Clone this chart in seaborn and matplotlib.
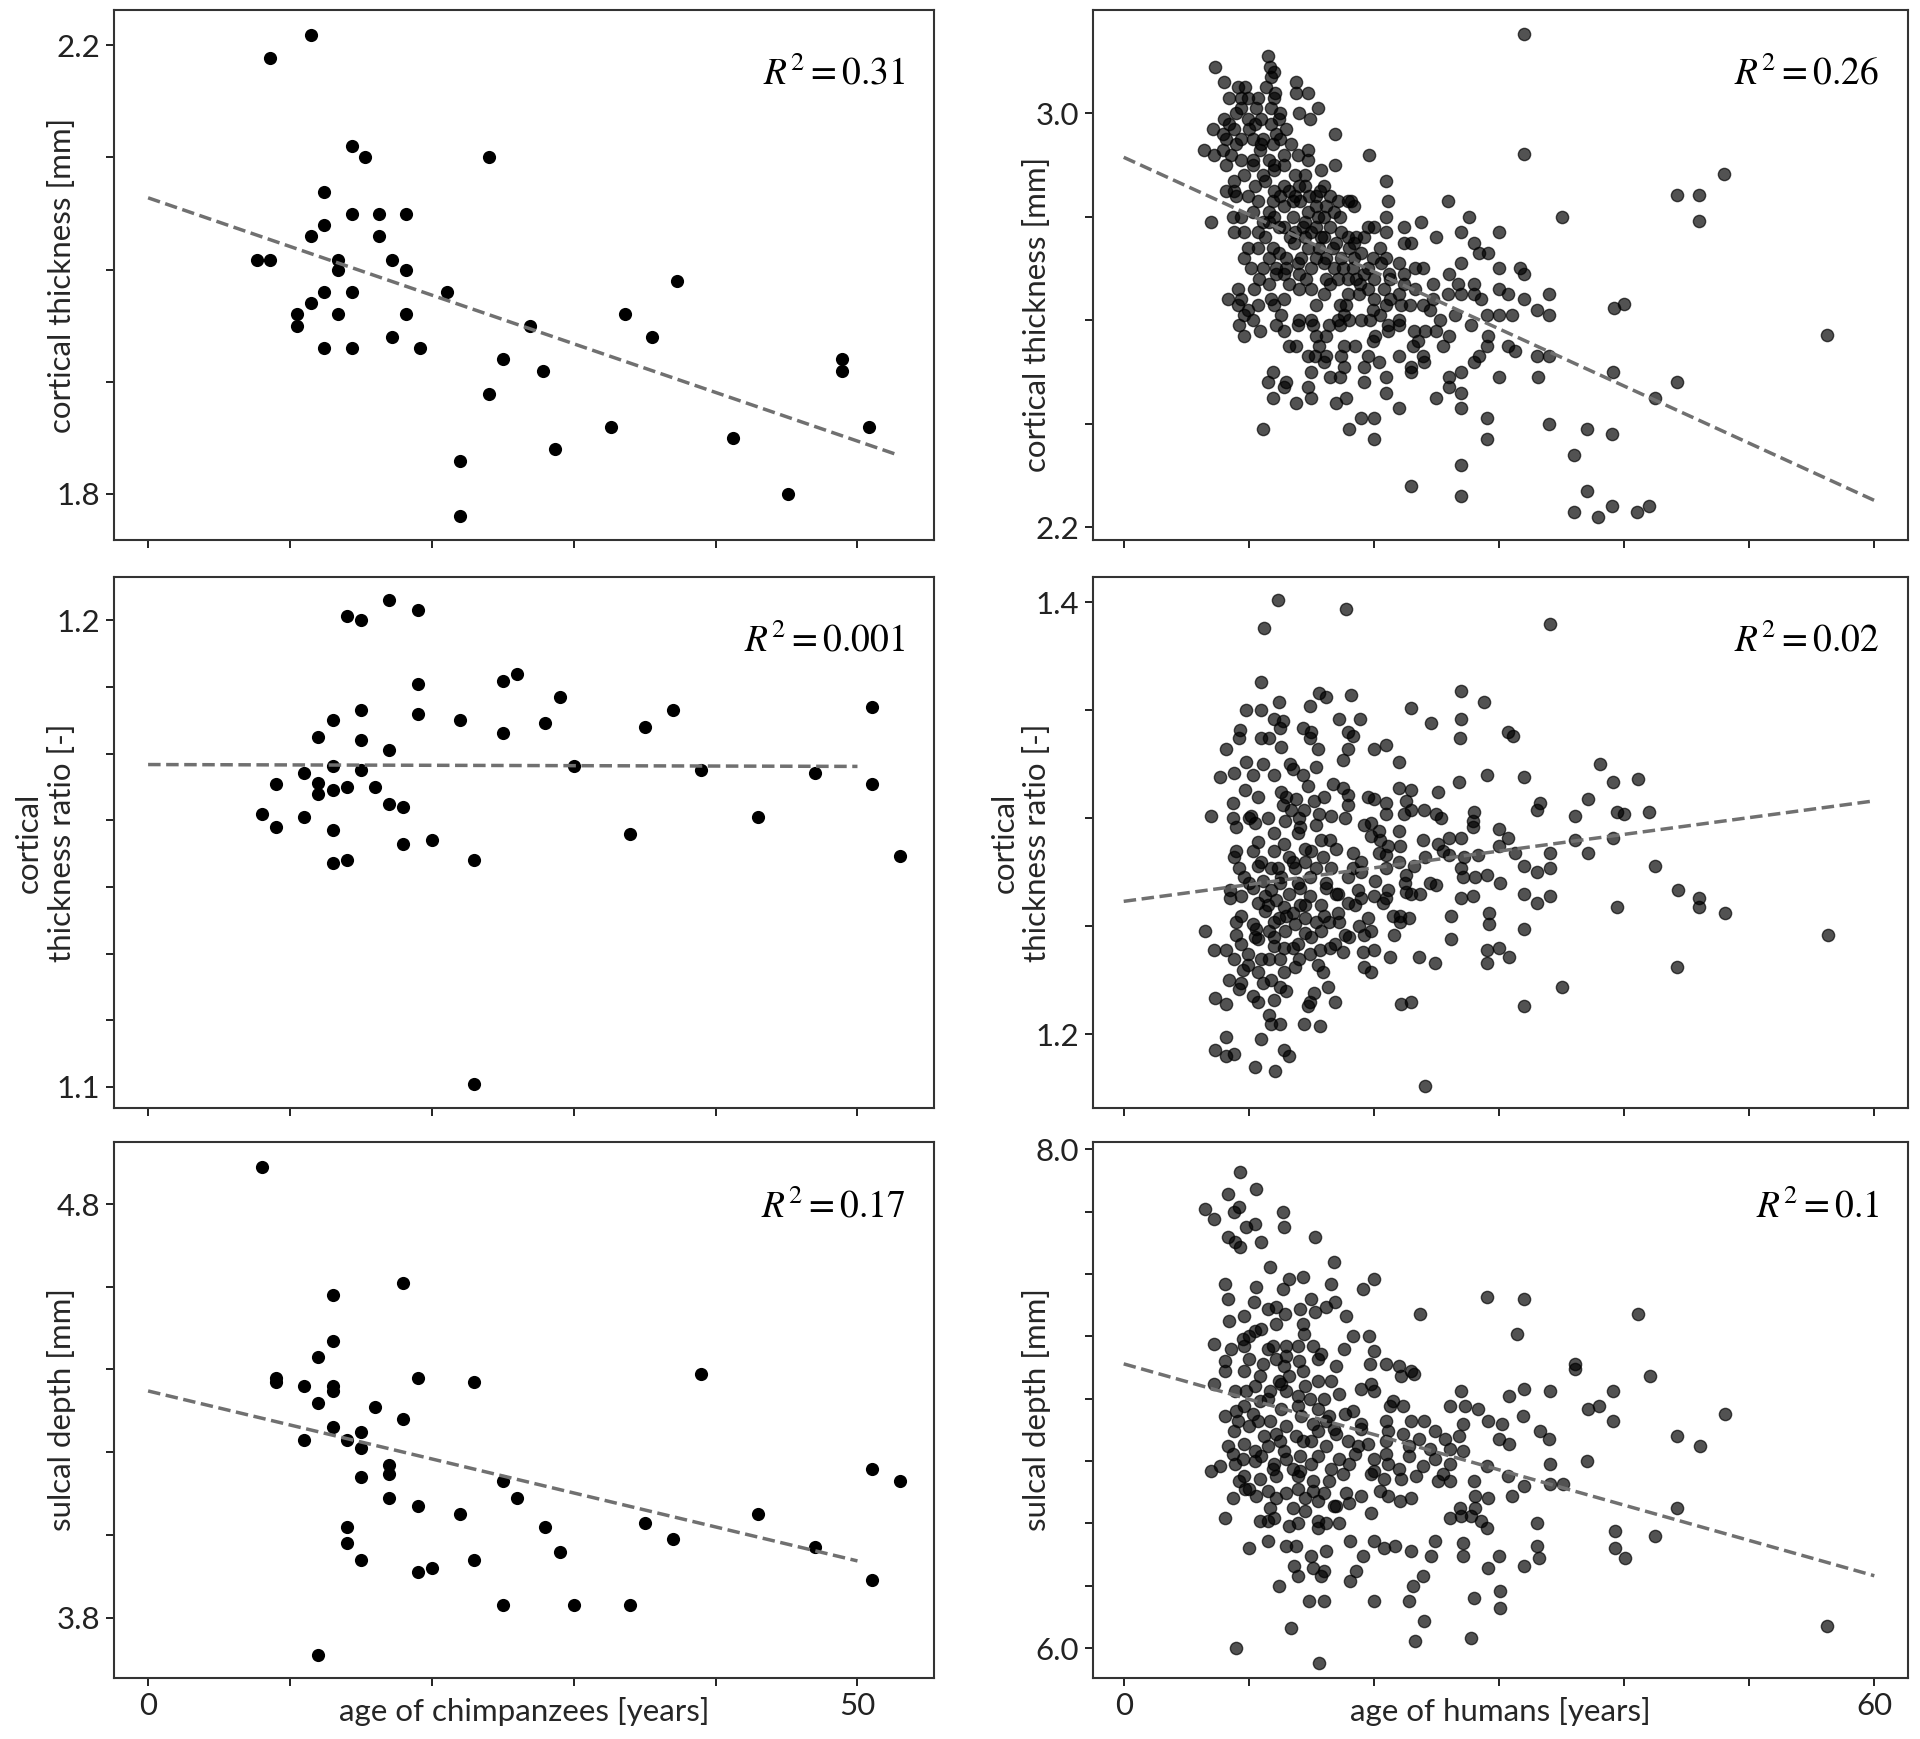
import numpy as np
import pandas as pd
import matplotlib
matplotlib.use("Agg")
import matplotlib.pyplot as plt
import seaborn as sns

# ---------------- data (age, value) ----------------
chimp_thickness = [
    (8.6, 2.189), (11.5, 2.209), (14.4, 2.110), (15.3, 2.100), (24.0, 2.100), (12.4, 2.069),
    (14.4, 2.050), (16.3, 2.050), (18.2, 2.050), (12.4, 2.040), (11.5, 2.030), (16.3, 2.030),
    (7.65, 2.009), (8.6, 2.009), (13.4, 2.009), (13.4, 2.000), (17.2, 2.009), (18.2, 2.000),
    (21.1, 1.980), (37.3, 1.990), (12.4, 1.980), (14.4, 1.980), (11.5, 1.970), (10.5, 1.960),
    (10.5, 1.950), (13.4, 1.960), (18.2, 1.960), (33.6, 1.960), (26.9, 1.950), (17.2, 1.940),
    (35.5, 1.940), (12.4, 1.930), (14.4, 1.930), (19.2, 1.930), (25.0, 1.920), (27.8, 1.910),
    (48.9, 1.920), (48.9, 1.910), (24.0, 1.889), (32.6, 1.860), (41.2, 1.850), (50.8, 1.860),
    (28.7, 1.840), (22.0, 1.829), (45.1, 1.800), (22.0, 1.780),
]
chimp_ratio = [
    (14, 1.2009), (15, 1.2000), (17, 1.2044), (19, 1.2022), (19, 1.1864), (25, 1.1871),
    (26, 1.1886), (29, 1.1835), (15, 1.1808), (19, 1.1800), (13, 1.1786), (22, 1.1786),
    (28, 1.1780), (37, 1.1808), (35, 1.1772), (51, 1.1815), (25, 1.1758), (12, 1.1751),
    (15, 1.1743), (17, 1.1722), (13, 1.1687), (30, 1.1687), (11, 1.1672), (15, 1.1679),
    (39, 1.1679), (47, 1.1672), (9, 1.1649), (12, 1.1652), (14, 1.1643), (16, 1.1643),
    (51, 1.1649), (12, 1.1628), (13, 1.1636), (17, 1.1607), (18, 1.1600), (8, 1.1586),
    (11, 1.1579), (43, 1.1579), (9, 1.1557), (13, 1.1550), (34, 1.1542), (18, 1.1521),
    (20, 1.1529), (53, 1.1494), (13, 1.1479), (14, 1.1486), (23, 1.1486), (23, 1.1007),
]
chimp_depth = [
    (8, 4.890), (13, 4.579), (18, 4.609), (13, 4.470), (12, 4.429), (9, 4.380), (9, 4.369),
    (11, 4.359), (13, 4.359), (13, 4.349), (19, 4.380), (23, 4.369), (39, 4.389), (12, 4.320),
    (16, 4.309), (18, 4.279), (13, 4.260), (15, 4.249), (11, 4.230), (14, 4.230), (15, 4.209),
    (17, 4.170), (17, 4.148), (15, 4.140), (25, 4.130), (51, 4.160), (53, 4.130), (17, 4.089),
    (26, 4.089), (19, 4.070), (22, 4.050), (43, 4.050), (14, 4.020), (28, 4.020), (35, 4.029),
    (14, 3.980), (37, 3.990), (29, 3.958), (47, 3.970), (15, 3.940), (23, 3.940), (19, 3.910),
    (20, 3.920), (51, 3.890), (25, 3.830), (30, 3.830), (34, 3.830), (12, 3.710),
]

human_thickness = [
    (32.0, 3.153), (32.0, 2.922), (48.0, 2.882), (44.2, 2.842), (46.0, 2.842), (46.0, 2.791),
    (35.0, 2.80), (56.2, 2.571), (39.2, 2.623), (40.0, 2.631), (39.1, 2.50), (44.2, 2.48),
    (42.5, 2.45), (34, 2.40), (37, 2.39), (39, 2.38), (36, 2.34), (37, 2.27), (36, 2.23),
    (37.9, 2.22), (39, 2.24), (41, 2.23), (42, 2.24), (27, 2.32), (27, 2.26), (23, 2.28),
    (29, 2.41), (29, 2.37), (20, 2.37), (19, 2.41), (20, 2.41), (18, 2.39), (11.1, 2.39),
    (22, 2.43), (27, 2.43), (27, 2.46), (25, 2.45), (26, 2.47), (21, 2.46), (17, 2.44),
    (17.8, 2.45), (13.8, 2.44), (14.7, 2.47), (15, 2.45), (11.9, 2.45), (12.8, 2.47),
    (11.5, 2.48), (11.9, 2.50), (16.5, 2.49), (17.3, 2.49), (17.6, 2.51), (19.2, 2.48),
    (19.2, 2.51), (21, 2.49), (23, 2.51), (23, 2.50), (20.4, 2.52), (22, 2.53), (23.9, 2.53),
    (30, 2.49), (27, 2.50), (28, 2.52), (28.4, 2.53), (29, 2.55), (30.7, 2.55), (31.3, 2.54),
    (33, 2.53), (34, 2.53), (33.1, 2.49), (32, 2.64), (33, 2.62), (34, 2.61), (34, 2.65),
    (31.7, 2.70), (32, 2.69), (30, 2.70), (30, 2.66), (30.7, 2.65), (31, 2.61), (30, 2.61),
    (28.6, 2.64), (29, 2.61), (27.8, 2.59), (29.1, 2.57), (28, 2.65), (26.7, 2.67), (27, 2.65),
    (28, 2.67), (27, 2.71), (28, 2.75), (28.4, 2.73), (29.1, 2.73), (30, 2.77), (27.6, 2.80),
    (27, 2.77), (25.9, 2.83), (25, 2.76), (23.8, 2.79), (22.4, 2.78), (23, 2.75), (22.4, 2.75),
    (21, 2.87), (21.1, 2.83), (21, 2.80), (21, 2.77), (20, 2.78), (19.5, 2.78), (19.2, 2.76),
    (20.5, 2.74), (19.9, 2.72), (21, 2.72), (22, 2.71), (23.3, 2.70), (23.9, 2.70), (22.4, 2.69),
    (21.2, 2.69), (21.3, 2.68), (20, 2.68), (19.2, 2.69), (18.9, 2.67), (22.4, 2.67), (23.3, 2.66),
    (24.7, 2.67), (26, 2.69), (25.9, 2.65), (24.7, 2.64), (23.9, 2.63), (25.3, 2.60), (25, 2.58),
    (26, 2.57), (24.1, 2.58), (23.2, 2.58), (23.5, 2.56), (23.1, 2.55), (22.2, 2.63), (22.9, 2.63),
    (22, 2.60), (22, 2.59), (21.3, 2.64), (21, 2.63), (20, 2.64), (19.9, 2.62), (20.5, 2.61),
    (19.7, 2.60), (20.1, 2.57), (19.9, 2.56), (21.1, 2.58), (21.1, 2.59), (19, 2.60), (18, 2.60),
    (18.8, 2.65), (17.8, 2.63), (17.3, 2.63), (17.9, 2.65), (17.6, 2.61), (17.3, 2.59), (17.1, 2.60),
    (16.4, 2.59), (17.6, 2.55), (17.4, 2.53), (16.2, 2.53), (16, 2.52), (15.3, 2.53), (14.7, 2.53),
    (15.6, 2.55), (16.2, 2.57), (15.4, 2.57), (15.1, 2.59), (15, 2.60), (14, 2.60), (13.9, 2.59),
    (13.8, 2.55), (13.2, 2.55), (12.8, 2.58), (12.2, 2.59), (12.6, 2.61), (12, 2.63), (10.9, 2.58),
    (10.3, 2.60), (9.6, 2.57), (9.2, 2.59), (9.6, 2.61), (9.1, 2.63), (9.4, 2.64), (10.4, 2.66),
    (9.1, 2.66), (8.3, 2.64), (9.9, 2.62), (10.7, 2.63), (11.8, 2.64), (12.8, 2.64), (12.2, 2.69),
    (12.2, 2.70), (12.8, 2.69), (14, 2.69), (14, 2.66), (15, 2.66), (15.4, 2.63), (16, 2.65),
    (16.5, 2.67), (16.2, 2.68), (17.1, 2.68), (17.9, 2.68), (18.6, 2.68), (17.5, 2.70), (17.4, 2.72),
    (18.4, 2.72), (16.2, 2.72), (15.4, 2.72), (14.7, 2.74), (15.6, 2.74), (16, 2.71), (15, 2.70),
    (13.9, 2.71), (13, 2.72), (12.4, 2.73), (11.6, 2.72), (11.1, 2.70), (10.7, 2.74), (11.9, 2.74),
    (11.3, 2.76), (13.3, 2.76), (13.7, 2.77), (14.3, 2.78), (15, 2.77), (16, 2.76), (16.7, 2.74),
    (17.4, 2.77), (17.9, 2.76), (18.6, 2.76), (18.4, 2.75), (16.5, 2.78), (16, 2.80), (15.4, 2.82),
    (14.7, 2.81), (14.1, 2.83), (13.5, 2.83), (12.8, 2.82), (12, 2.80), (11.6, 2.79), (12.4, 2.78),
    (15.4, 2.78), (16.2, 2.82), (17.1, 2.83), (17.9, 2.83), (18.4, 2.82), (18.2, 2.83), (17.3, 2.80),
    (10.3, 2.81), (9.4, 2.80), (8.7, 2.80), (7, 2.79), (8.8, 2.77), (9.6, 2.77), (9.9, 2.74),
    (9.6, 2.72), (10.7, 2.77), (11.1, 2.79), (11.6, 2.81), (9, 2.84), (9.9, 2.84), (10.7, 2.83),
    (11.9, 2.83), (12, 2.85), (12.8, 2.86), (13.7, 2.84), (14.5, 2.86), (15.4, 2.84), (16, 2.86),
    (16.9, 2.90), (15.8, 2.89), (14.5, 2.88), (13.7, 2.88), (12.8, 2.90), (12, 2.89), (11.1, 2.88),
    (10.3, 2.90), (9.6, 2.88), (8.8, 2.87), (8.2, 2.85), (8.8, 2.85), (8.2, 2.90), (8.6, 2.92),
    (9.4, 2.91), (10.3, 2.91), (10.9, 2.93), (11.6, 2.91), (12, 2.90), (12.8, 2.92), (13.9, 2.92),
    (14.7, 2.93), (14.7, 2.91), (16.9, 2.96), (6.4, 2.93), (7.2, 2.92), (7.9, 2.93), (7.1, 2.97),
    (7.9, 2.96), (8.4, 2.98), (8.8, 2.97), (8, 2.99), (9, 3.00), (9.9, 2.99), (10.5, 2.98),
    (11, 2.99), (11.8, 2.98), (12.4, 2.99), (13, 2.97), (12.5, 3.00), (12.5, 2.95), (11.9, 2.94),
    (11.1, 2.95), (10.3, 2.95), (9.4, 2.95), (9.4, 3.01), (9.9, 3.03), (10.7, 3.03), (12, 3.03),
    (11.8, 3.01), (9.4, 3.03), (8.4, 3.03), (9.1, 3.05), (9.7, 3.05), (8, 3.06), (7.3, 3.09),
    (11.5, 3.11), (11.7, 3.09), (12, 3.08), (11.8, 3.07), (12.1, 3.04), (13.8, 3.06), (13.8, 3.04),
    (14.7, 3.04), (15.5, 3.01), (14, 3.00), (14.9, 2.99), (19.6, 2.92),
    # dense core
    (10.5, 2.86), (11.3, 2.87), (12.5, 2.84), (13.2, 2.85), (14.0, 2.86), (14.8, 2.84), (15.7, 2.85),
    (16.5, 2.84), (13.5, 2.80), (14.5, 2.79), (15.5, 2.80), (16.8, 2.81), (12.8, 2.78), (13.6, 2.75),
    (14.5, 2.76), (15.8, 2.76), (17.0, 2.75), (18.0, 2.74), (19.0, 2.73), (13.0, 2.70), (14.2, 2.72),
    (16.8, 2.70), (18.3, 2.70), (19.5, 2.70), (20.6, 2.71), (10.2, 2.70), (10.8, 2.68), (11.6, 2.67),
    (13.2, 2.67), (14.6, 2.68), (19.5, 2.66), (20.8, 2.66), (22.0, 2.65), (11.0, 2.94), (12.2, 2.96),
    (13.4, 2.94), (10.0, 2.97), (9.0, 2.94), (8.2, 2.95), (10.6, 3.01), (11.4, 3.05), (24.5, 2.62),
    (26.5, 2.61), (25.5, 2.55), (24.0, 2.52), (26.0, 2.49), (18.5, 2.55), (19.5, 2.53), (15.0, 2.50),
    (13.0, 2.48),
]
human_ratio = [
    (12.3, 1.401), (17.8, 1.397), (11.2, 1.388), (34.1, 1.390), (11, 1.363), (15.6, 1.358),
    (16.2, 1.356), (18.2, 1.357), (27, 1.359), (28.8, 1.354), (12.4, 1.354), (14.9, 1.352),
    (23, 1.351), (9.8, 1.35), (11, 1.35), (12, 1.346), (12.7, 1.345), (17.2, 1.346), (18.9, 1.346),
    (27, 1.346), (24.6, 1.344), (14.3, 1.342), (15, 1.34), (9.3, 1.341), (12.5, 1.342), (17.9, 1.34),
    (18.3, 1.338), (30.7, 1.34), (31.1, 1.338), (26.9, 1.337), (9.2, 1.337), (11, 1.337), (11.6, 1.337),
    (14.9, 1.337), (8.2, 1.332), (12.6, 1.333), (15.5, 1.332), (17.9, 1.332), (20, 1.332), (21, 1.334),
    (17.5, 1.327), (22, 1.326), (9.8, 1.326), (11.1, 1.325), (13.5, 1.323), (15.4, 1.324), (38.1, 1.325),
    (8.8, 1.321), (7.7, 1.319), (29, 1.32), (32, 1.319), (14.3, 1.32), (26.8, 1.317), (39.1, 1.317),
    (41.1, 1.318), (16.7, 1.316), (17.5, 1.314), (14.7, 1.315), (22, 1.314), (23, 1.313), (9.7, 1.313),
    (12.6, 1.312), (17.9, 1.311), (25.1, 1.312), (10.7, 1.31), (13.8, 1.309), (15.2, 1.308), (20, 1.309),
    (37.1, 1.309), (21, 1.307), (22.6, 1.308), (8.7, 1.307), (12.7, 1.306), (13.4, 1.304), (14.4, 1.304),
    (17.9, 1.306), (33, 1.304), (33.3, 1.307), (39.4, 1.303), (40, 1.302), (42, 1.303), (24, 1.304),
    (25, 1.302), (28, 1.303), (7, 1.301), (8.7, 1.30), (10.2, 1.301), (15.6, 1.302), (16.6, 1.301),
    (17.7, 1.30), (36.1, 1.301), (21, 1.302), (22.4, 1.302), (23, 1.304), (25.4, 1.30), (9, 1.296),
    (10.5, 1.298), (12.9, 1.299), (14.1, 1.296), (15.4, 1.297), (19.2, 1.297), (19.8, 1.298),
    (20.4, 1.294), (22, 1.294), (27.9, 1.299), (27.9, 1.296), (12, 1.293), (13.9, 1.293), (12.8, 1.288),
    (10.7, 1.289), (15.8, 1.29), (19.8, 1.292), (23.9, 1.29), (26, 1.291), (27, 1.291), (30, 1.295),
    (30.7, 1.291), (39.1, 1.291), (36.1, 1.29), (30, 1.287), (25.1, 1.288), (21.1, 1.287), (22.1, 1.287),
    (17, 1.286), (14.5, 1.286), (10.3, 1.285), (9, 1.285), (12, 1.285), (13.2, 1.282), (18.3, 1.284),
    (20.4, 1.284), (21, 1.283), (24.1, 1.282), (26, 1.283), (27.2, 1.282), (28.3, 1.283), (31.3, 1.284),
    (34.1, 1.284), (37.1, 1.284), (8.8, 1.282), (15.9, 1.282), (14.5, 1.28), (22, 1.28), (23.2, 1.278),
    (32, 1.278), (34.1, 1.277), (42.5, 1.278), (9.2, 1.277), (10.7, 1.278), (11.8, 1.277), (12.3, 1.277),
    (13.7, 1.277), (15.4, 1.277), (16.6, 1.277), (18.3, 1.277), (19, 1.275), (21, 1.277), (27, 1.277),
    (9.6, 1.273), (11.1, 1.271), (12.6, 1.273), (13.9, 1.27), (14.9, 1.273), (16.2, 1.27), (17.9, 1.273),
    (20.1, 1.271), (22.6, 1.274), (28.1, 1.273), (29, 1.274), (30.1, 1.27), (27.1, 1.273), (33, 1.275),
    (25, 1.269), (8.5, 1.267), (10.3, 1.268), (11.8, 1.267), (13.2, 1.265), (14.1, 1.268), (16.2, 1.268),
    (18.7, 1.267), (21.1, 1.267), (22.6, 1.266), (23.7, 1.265), (44.3, 1.267), (32, 1.265), (9.4, 1.264),
    (11.3, 1.264), (12.2, 1.262), (14.9, 1.264), (17.1, 1.265), (20, 1.264), (21, 1.263), (23, 1.265),
    (27, 1.263), (27.9, 1.264), (34.1, 1.264), (46, 1.263), (8.5, 1.263), (10.7, 1.261), (12.8, 1.259),
    (14.1, 1.26), (15.8, 1.26), (17.9, 1.261), (19, 1.263), (20.7, 1.261), (33, 1.261), (39.4, 1.259),
    (46, 1.259), (48.1, 1.256), (9.4, 1.255), (11.3, 1.257), (12.4, 1.254), (13.5, 1.256), (14.5, 1.254),
    (17.1, 1.256), (19.5, 1.254), (26.2, 1.255), (29.2, 1.256), (22.1, 1.255), (22.8, 1.254), (9, 1.252),
    (10.3, 1.251), (12, 1.252), (13.7, 1.251), (15.4, 1.252), (16.4, 1.252), (17.2, 1.252), (18.8, 1.25),
    (22.1, 1.252), (29.2, 1.251), (32, 1.249), (6.5, 1.248), (10.6, 1.249), (11.6, 1.248), (12.9, 1.248),
    (14.5, 1.247), (15.8, 1.248), (17.7, 1.246), (19.8, 1.248), (19.2, 1.246), (21.6, 1.246), (26.2, 1.244),
    (9, 1.246), (56.3, 1.246), (7.2, 1.239), (8.2, 1.239), (9.4, 1.242), (10.7, 1.244), (12, 1.241),
    (12.8, 1.24), (13.9, 1.242), (14.9, 1.237), (15.7, 1.239), (16.9, 1.242), (17.5, 1.238), (19.1, 1.238),
    (20, 1.239), (21.3, 1.236), (23.6, 1.236), (29, 1.239), (30, 1.24), (30.8, 1.236), (9.9, 1.237),
    (8.8, 1.235), (11.6, 1.235), (13.7, 1.231), (19.2, 1.231), (19.8, 1.229), (24.9, 1.233), (29, 1.233),
    (44.2, 1.231), (9.9, 1.232), (10.7, 1.229), (12.8, 1.229), (15.9, 1.229), (8.4, 1.225), (9.4, 1.224),
    (11.1, 1.224), (12.5, 1.222), (16.3, 1.222), (35, 1.222), (9.2, 1.221), (10.3, 1.218), (7.3, 1.217),
    (8.2, 1.214), (10.7, 1.215), (12, 1.216), (15.2, 1.219), (14.9, 1.215), (16.9, 1.215), (22.2, 1.214),
    (23, 1.215), (32, 1.213), (11.6, 1.209), (14.7, 1.213), (11.8, 1.205), (12.5, 1.205), (14.4, 1.205),
    (15.7, 1.204), (11, 1.198), (8.2, 1.199), (7.3, 1.193), (8.2, 1.19), (8.8, 1.191), (12.8, 1.193),
    (13.2, 1.19), (10.5, 1.185), (12.1, 1.183), (24.1, 1.176),
    # dense core
    (10.0, 1.30), (11.5, 1.30), (13.0, 1.31), (14.0, 1.30), (16.0, 1.31), (11.0, 1.28), (12.5, 1.27),
    (13.5, 1.28), (15.0, 1.285), (16.5, 1.29), (10.0, 1.27), (11.5, 1.26), (13.0, 1.255), (14.5, 1.26),
    (16.0, 1.255), (17.0, 1.265), (18.5, 1.26), (10.5, 1.245), (12.0, 1.245), (13.5, 1.24), (15.0, 1.245),
    (16.5, 1.24), (18.0, 1.245), (9.5, 1.23), (11.0, 1.235), (12.5, 1.235), (14.0, 1.235), (15.5, 1.232),
    (11.8, 1.225), (13.0, 1.22), (10.3, 1.32), (12.0, 1.32), (13.3, 1.325), (19.5, 1.31), (20.5, 1.29),
    (22.5, 1.27), (24.5, 1.27), (25.5, 1.285), (19.0, 1.28), (21.5, 1.255),
]
human_depth = [
    (9.3, 7.91), (10.6, 7.84), (8.3, 7.82), (9.2, 7.77), (8.8, 7.75), (6.5, 7.76), (7.2, 7.72),
    (12.7, 7.75), (9.8, 7.69), (10.5, 7.70), (12.8, 7.69), (8.3, 7.65), (8.9, 7.63), (9.3, 7.61),
    (11, 7.63), (15.3, 7.65), (16.8, 7.55), (11.7, 7.53), (8.1, 7.46), (10.6, 7.45), (12.7, 7.44),
    (13.2, 7.48), (14.3, 7.49), (16.6, 7.46), (20, 7.48), (19.1, 7.44), (29, 7.41), (32, 7.40),
    (8.3, 7.40), (10.4, 7.39), (12.2, 7.37), (12.9, 7.34), (14.1, 7.36), (15, 7.40), (16.2, 7.37),
    (16.9, 7.39), (15.3, 7.35), (17.8, 7.33), (23.7, 7.34), (41.1, 7.34), (8.4, 7.31), (9.6, 7.33),
    (11.5, 7.36), (12.2, 7.30), (14.3, 7.30), (9.5, 7.24), (10.5, 7.27), (11, 7.28), (14.4, 7.26),
    (18.3, 7.25), (19.6, 7.25), (31.4, 7.26), (7.2, 7.22), (8.6, 7.20), (9.6, 7.21), (11.9, 7.21),
    (13, 7.21), (13.9, 7.21), (15.1, 7.21), (17.6, 7.20), (20, 7.19), (8.1, 7.15), (10, 7.16),
    (11.1, 7.14), (12.2, 7.16), (13, 7.17), (15.5, 7.16), (17, 7.13), (19.7, 7.14), (21, 7.14),
    (22, 7.13), (23, 7.11), (36.1, 7.14), (36.1, 7.12), (42.1, 7.09), (8.1, 7.11), (9.6, 7.11),
    (10.9, 7.09), (12.4, 7.07), (13.2, 7.09), (14.3, 7.11), (15.5, 7.07), (16.6, 7.07), (7.2, 7.06),
    (19.8, 7.06), (22.2, 7.09), (23.2, 7.10), (27, 7.03), (32, 7.04), (34.1, 7.03), (39.1, 7.03),
    (8.9, 7.03), (9.8, 7.03), (11.7, 7.03), (12.6, 7.06), (13.9, 7.01), (14.9, 7.00), (17.2, 7.02),
    (19, 7.04), (20, 7.03), (21.5, 6.99), (22.3, 6.97), (21.3, 6.97), (26.1, 6.97), (27.3, 6.97),
    (28.3, 6.96), (30.8, 7.01), (37.1, 6.96), (38, 6.97), (48.1, 6.94), (9.6, 6.97), (10.9, 6.99),
    (12.6, 6.96), (13.9, 6.97), (15.5, 6.96), (16.4, 6.93), (17.7, 6.94), (8.1, 6.93), (9.1, 6.91),
    (10.7, 6.91), (11.7, 6.91), (13, 6.89), (14.2, 6.93), (15.1, 6.90), (16.2, 6.91), (19, 6.90),
    (21, 6.91), (23, 6.91), (24, 6.91), (27.1, 6.90), (29.1, 6.91), (30.2, 6.90), (31.9, 6.93),
    (39.1, 6.91), (8.8, 6.87), (10.0, 6.89), (12.2, 6.86), (15.5, 6.87), (17, 6.86), (19, 6.88),
    (21.1, 6.87), (22.3, 6.86), (24.9, 6.87), (33.3, 6.87), (44.2, 6.85), (46.1, 6.81), (8.3, 6.81),
    (9.6, 6.82), (11.5, 6.81), (14.3, 6.83), (16.2, 6.81), (17.9, 6.83), (18.7, 6.81), (21, 6.83),
    (22.8, 6.81), (23.6, 6.84), (25.7, 6.84), (26.8, 6.85), (30, 6.84), (30.8, 6.82), (34, 6.84),
    (8.7, 6.78), (10.5, 6.79), (12.8, 6.79), (14.1, 6.77), (15.5, 6.77), (17.2, 6.76), (20, 6.76),
    (21, 6.78), (22.8, 6.77), (24.9, 6.76), (26.1, 6.80), (27.1, 6.79), (7.7, 6.73), (7, 6.71),
    (8.9, 6.74), (10.5, 6.75), (11.9, 6.72), (13, 6.76), (14.1, 6.71), (16.6, 6.72), (18, 6.74),
    (20, 6.71), (21.1, 6.74), (23.9, 6.73), (26.1, 6.74), (29, 6.73), (34.1, 6.74), (37.0, 6.75),
    (9.6, 6.69), (10.9, 6.68), (12.2, 6.69), (13.9, 6.69), (15.1, 6.67), (16.4, 6.67), (19.8, 6.70),
    (20.8, 6.68), (22.2, 6.68), (23.4, 6.69), (25.1, 6.67), (26.1, 6.67), (28, 6.67), (30.7, 6.69),
    (34.1, 6.66), (35.1, 6.66), (9.2, 6.67), (9.7, 6.64), (13.9, 6.64), (15.1, 6.63), (19, 6.61),
    (21.1, 6.61), (22.1, 6.59), (23, 6.60), (28.1, 6.61), (29.1, 6.60), (32, 6.65), (31, 6.61),
    (8.7, 6.60), (10.6, 6.61), (12.2, 6.60), (13.5, 6.56), (15.5, 6.59), (17, 6.57), (11.7, 6.56),
    (10.9, 6.51), (11.5, 6.51), (13.2, 6.49), (13.9, 6.50), (15.5, 6.51), (16.8, 6.57), (19.8, 6.54),
    (26.9, 6.56), (28.1, 6.56), (27, 6.53), (27.8, 6.53), (26.1, 6.52), (28.6, 6.51), (29, 6.48),
    (33, 6.50), (44.2, 6.56), (8.1, 6.52), (15.5, 6.48), (17.2, 6.50), (39.3, 6.47), (42.5, 6.45),
    (11.5, 6.43), (13, 6.41), (13.8, 6.41), (18.1, 6.43), (20, 6.43), (20.8, 6.40), (21.7, 6.41),
    (24.9, 6.43), (27.1, 6.42), (33, 6.41), (39.3, 6.40), (10, 6.40), (16.2, 6.39), (15, 6.37),
    (19.1, 6.37), (23, 6.39), (24.6, 6.37), (27.1, 6.37), (30, 6.37), (40.1, 6.36), (33.2, 6.36),
    (13.6, 6.33), (16, 6.31), (15.1, 6.32), (18.6, 6.31), (29.1, 6.32), (32, 6.33), (13.9, 6.29),
    (15.8, 6.29), (18.1, 6.27), (23.9, 6.29), (23.1, 6.25), (12.4, 6.25), (30.1, 6.23), (14.8, 6.19),
    (16, 6.19), (20, 6.19), (22.8, 6.19), (28, 6.20), (30.1, 6.16), (24, 6.11), (13.4, 6.08),
    (56.2, 6.09), (23.3, 6.03), (27.8, 6.04), (9, 6.00), (15.6, 5.94),
    # dense core
    (10.0, 7.25), (11.5, 7.20), (12.8, 7.13), (14.0, 7.15), (15.8, 7.18), (10.5, 7.05), (11.5, 7.00),
    (13.0, 7.03), (14.5, 7.05), (16.0, 7.00), (9.0, 6.95), (10.3, 6.94), (11.2, 6.85), (12.5, 6.83),
    (13.8, 6.85), (15.0, 6.83), (16.8, 6.88), (18.3, 6.95), (9.5, 6.76), (11.0, 6.77), (12.0, 6.74),
    (13.5, 6.72), (15.0, 6.74), (17.5, 6.70), (18.5, 6.78), (10.0, 6.64), (11.5, 6.63), (13.0, 6.62),
    (14.5, 6.60), (16.0, 6.62), (17.8, 6.62), (12.0, 6.52), (14.5, 6.55), (16.2, 6.50), (18.0, 6.58),
    (20.5, 6.63), (22.0, 6.72), (24.5, 6.80), (25.5, 6.70), (19.5, 6.82),
]

# fitted trend lines: end points (age, value)
chimp_fit = {"thick": ([0, 52.8], [2.064, 1.835]),
             "ratio": ([0, 50.0], [1.1691, 1.1687]),
             "depth": ([0, 50.0], [4.348, 3.937])}
human_fit = {"thick": ([0, 60], [2.915, 2.2515]),
             "ratio": ([0, 60], [1.2616, 1.3081]),
             "depth": ([0, 60], [7.14, 6.29])}

r2_chimp = ["0.31", "0.001", "0.17"]
r2_human = ["0.26", "0.02", "0.1"]

ylabels = ["cortical thickness [mm]", "cortical\nthickness ratio [-]", "sulcal depth [mm]"]

# y ticks and the two labelled ends
chimp_yticks = [np.linspace(1.8, 2.2, 5), np.linspace(1.1, 1.2, 8), np.linspace(3.8, 4.8, 6)]
chimp_ytl = [("1.8", "2.2"), ("1.1", "1.2"), ("3.8", "4.8")]
human_yticks = [np.linspace(2.2, 3.0, 5), np.linspace(1.2, 1.4, 5), np.linspace(6.0, 8.0, 9)]
human_ytl = [("2.2", "3.0"), ("1.2", "1.4"), ("6.0", "8.0")]
chimp_ylim = [(1.759, 2.2315), (1.0955, 1.2093), (3.654, 4.95)]
human_ylim = [(2.175, 3.20), (1.166, 1.4117), (5.88, 8.03)]

# ---------------- style ----------------
sns.set_style("ticks")
plt.rcParams["font.family"] = ["Lato", "DejaVu Sans"]
plt.rcParams["mathtext.fontset"] = "stix"
FS = 22.5

fig = plt.figure(figsize=(19.2, 17.39), dpi=100)
rows_b = [0.6895, 0.3629, 0.0351]
rows_h = [0.3048, 0.3053, 0.3082]
col_l = [0.0594, 0.5693]
col_w = [0.4271, 0.4245]

keys = ["thick", "ratio", "depth"]
chimp_sets = [chimp_thickness, chimp_ratio, chimp_depth]
human_sets = [human_thickness, human_ratio, human_depth]

for r in range(3):
    for c in range(2):
        ax = fig.add_axes([col_l[c], rows_b[r], col_w[c], rows_h[r]])
        if c == 0:
            df = pd.DataFrame(chimp_sets[r], columns=["age", "val"])
            sns.scatterplot(data=df, x="age", y="val", ax=ax, color="black",
                            s=90, linewidth=0, zorder=3)
            fx, fy = chimp_fit[keys[r]]
            ax.set_xlim(-2.4, 55.4)
            ax.set_xticks(np.arange(0, 51, 10))
            xtl = ["0", "", "", "", "", "50"]
            yt, ytl, ylim, r2 = chimp_yticks[r], chimp_ytl[r], chimp_ylim[r], r2_chimp[r]
            xlab = "age of chimpanzees [years]"
        else:
            df = pd.DataFrame(human_sets[r], columns=["age", "val"])
            sns.scatterplot(data=df, x="age", y="val", ax=ax, color="black", alpha=0.68,
                            s=78, edgecolor="black", linewidth=1.0, zorder=3)
            fx, fy = human_fit[keys[r]]
            ax.set_xlim(-2.45, 62.7)
            ax.set_xticks(np.arange(0, 61, 10))
            xtl = ["0", "", "", "", "", "", "60"]
            yt, ytl, ylim, r2 = human_yticks[r], human_ytl[r], human_ylim[r], r2_human[r]
            xlab = "age of humans [years]"

        ax.plot(fx, fy, ls=(0, (3.6, 1.6)), color="#707070", lw=2.5, zorder=4)

        ax.set_ylim(*ylim)
        ax.set_yticks(yt)
        ax.set_yticklabels([ytl[0]] + [""] * (len(yt) - 2) + [ytl[1]])
        if r == 2:
            ax.set_xticklabels(xtl)
            ax.set_xlabel(xlab, fontsize=FS)
            ax.xaxis.set_label_coords(0.5, -0.036)
        else:
            ax.set_xticklabels([""] * len(xtl))
            ax.set_xlabel("")
        ax.set_ylabel(ylabels[r], fontsize=FS, multialignment="center", linespacing=1.2)
        label_y = 0.425 if (c == 1 and r == 0) else 0.5
        ax.yaxis.set_label_coords(-0.047 if c == 0 else -0.051, label_y)

        ax.tick_params(direction="out", length=6, width=1.4, labelsize=FS,
                       colors="#222222", pad=4)
        for sp in ax.spines.values():
            sp.set_linewidth(1.5)
            sp.set_color("#333333")

        ax.text(0.965, 0.88, r"$R^2 = %s$" % r2, transform=ax.transAxes,
                ha="right", va="center", fontsize=27, color="black")

fig.savefig("out.png", dpi=100)
